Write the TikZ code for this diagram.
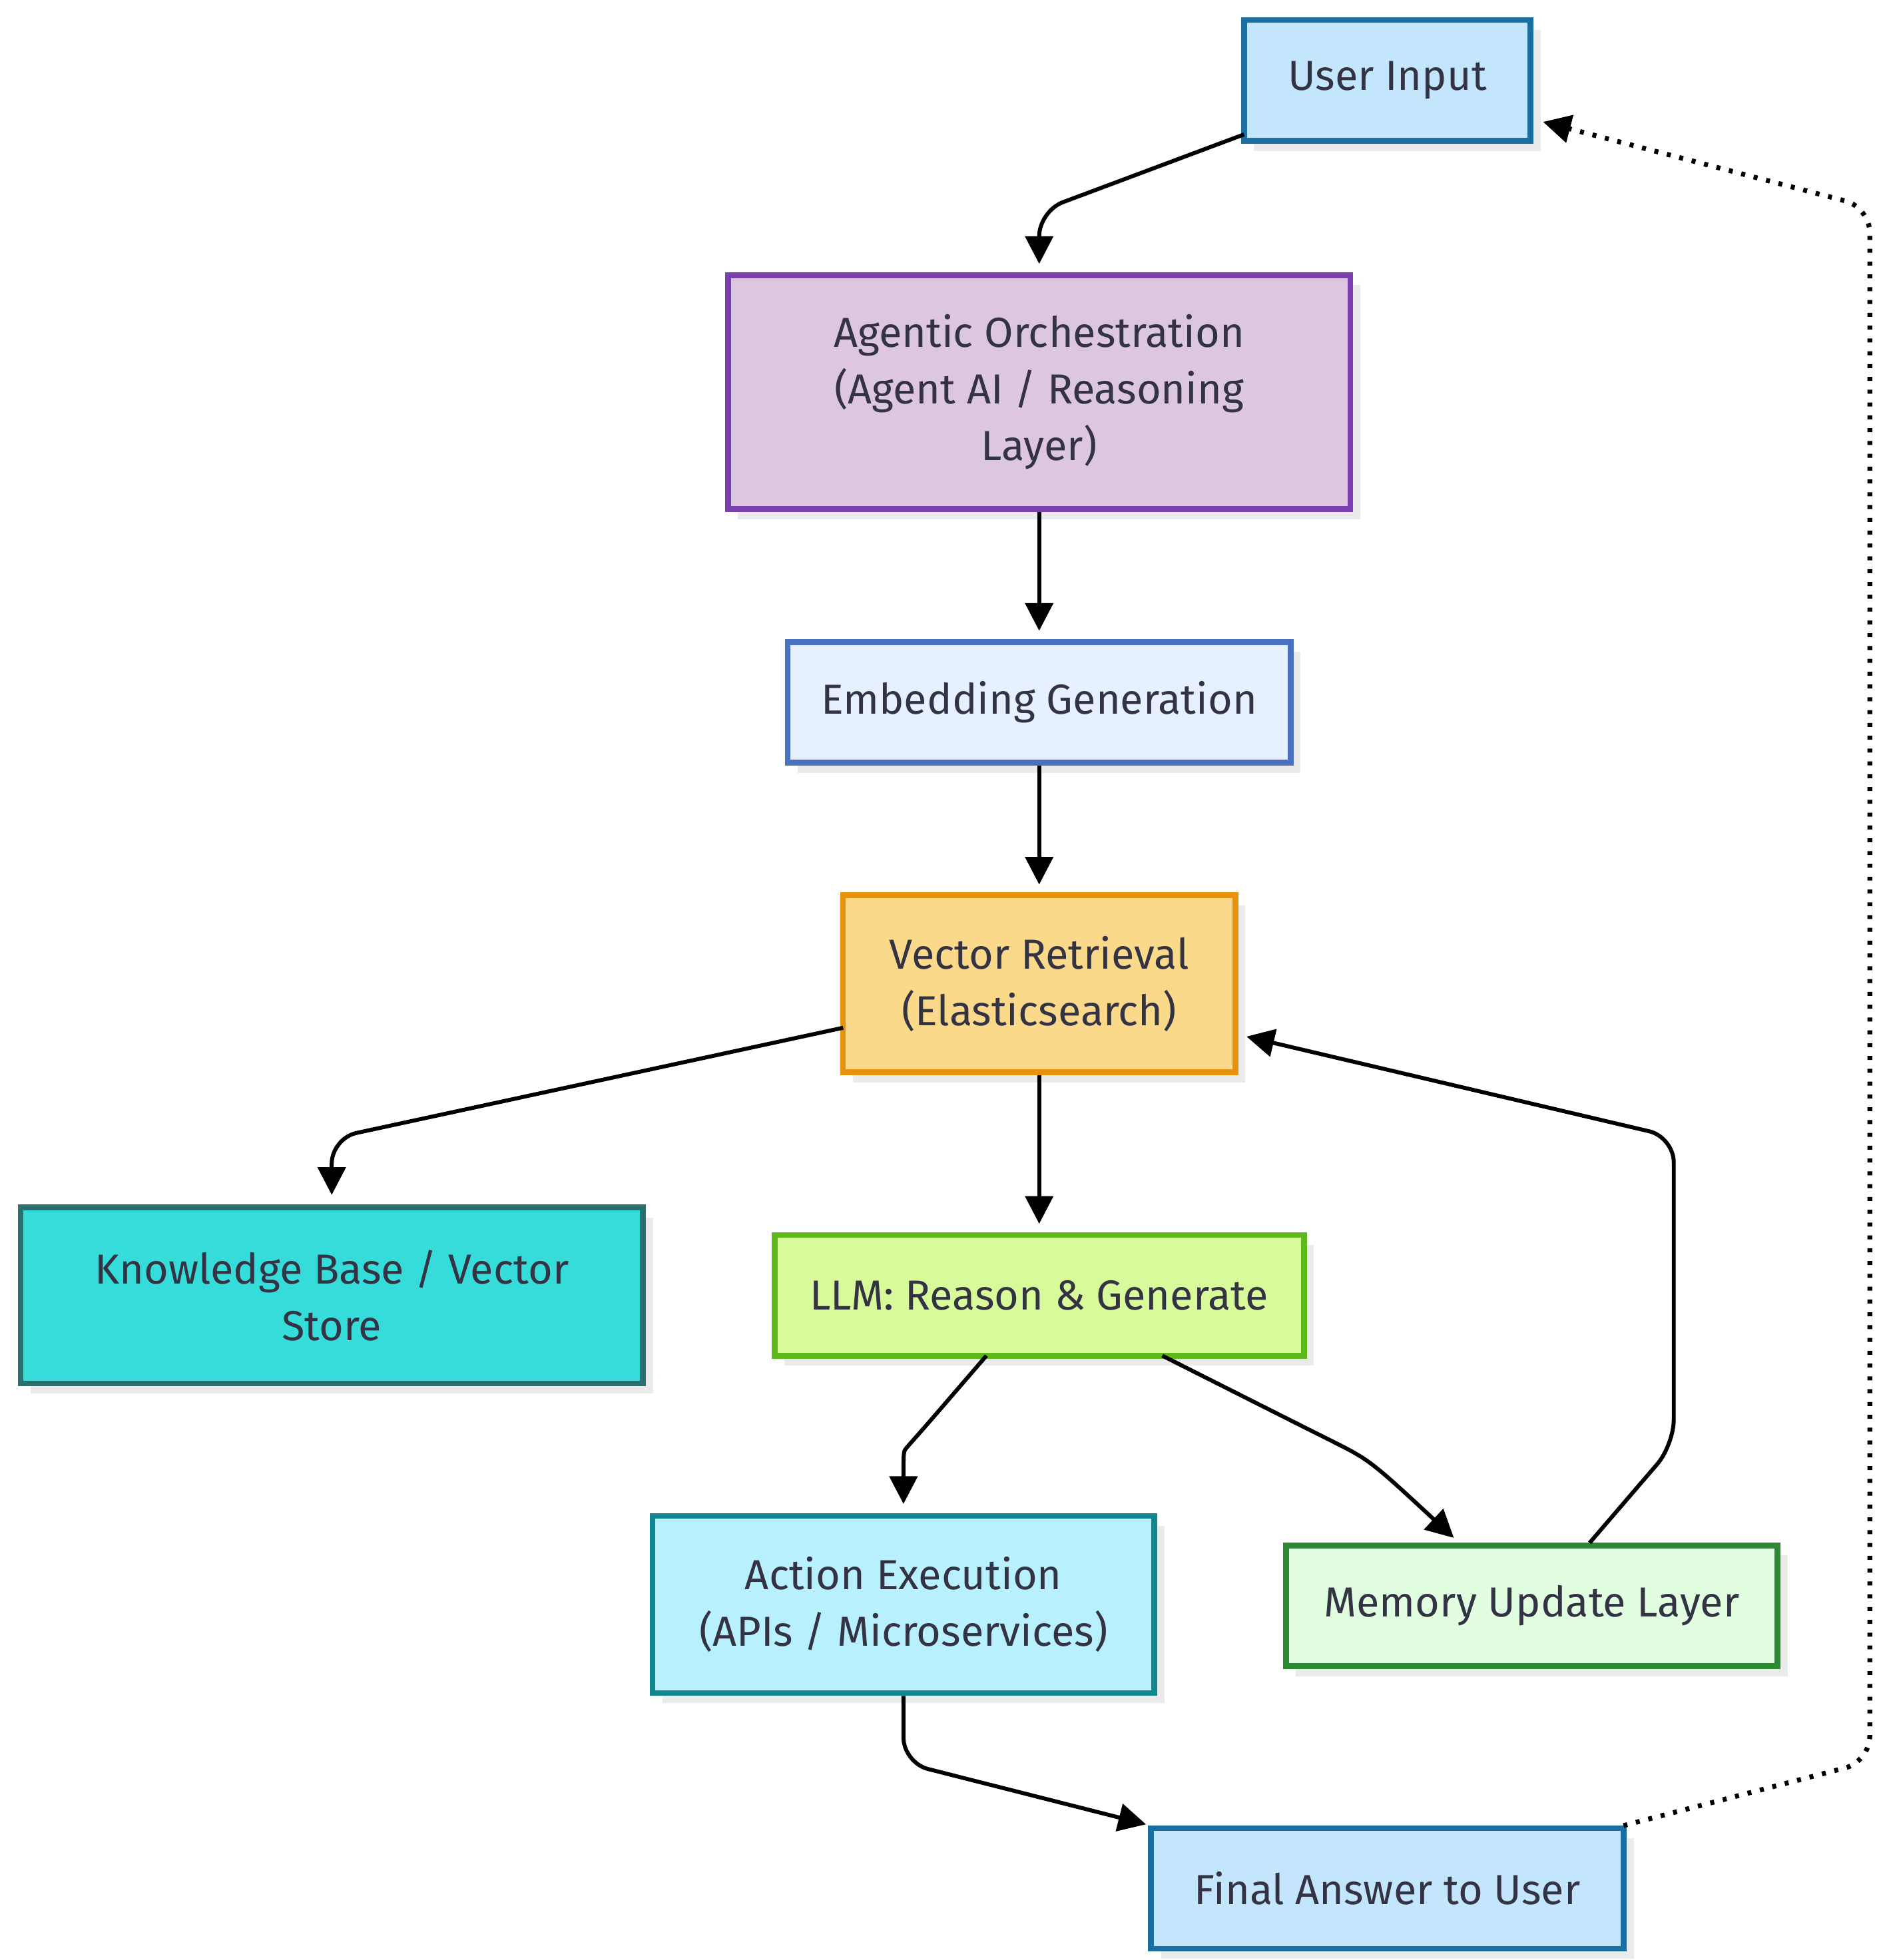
\documentclass[tikz,border=0pt]{standalone}
\usepackage{fontspec}
\setmainfont{Fira Sans}
\usepackage{xcolor}
\usetikzlibrary{arrows.meta}
\usetikzlibrary{shadows}
\definecolor{txt}{HTML}{333344}
\definecolor{uifill}{HTML}{C4E6FD}\definecolor{uidraw}{HTML}{1A6EA0}
\definecolor{agfill}{HTML}{DCC6E0}\definecolor{agdraw}{HTML}{7C3FB2}
\definecolor{emfill}{HTML}{E6F0FE}\definecolor{emdraw}{HTML}{4A70C0}
\definecolor{vrfill}{HTML}{FAD98A}\definecolor{vrdraw}{HTML}{E8920F}
\definecolor{kbfill}{HTML}{36DCD9}\definecolor{kbdraw}{HTML}{2A7070}
\definecolor{llfill}{HTML}{D9FA9A}\definecolor{lldraw}{HTML}{5DB81A}
\definecolor{acfill}{HTML}{B8F0FE}\definecolor{acdraw}{HTML}{12868F}
\definecolor{mefill}{HTML}{E1FDE0}\definecolor{medraw}{HTML}{2E8A32}
\tikzset{
  every node/.style = {font = \fontsize{9.5}{12.8}\selectfont, text=txt},
  box/.style = {draw, line width=1.3pt, align=center, minimum height=0.96cm,
    drop shadow={shadow xshift=0.08cm, shadow yshift=-0.08cm, fill=black!8, opacity=1}},
  flow/.style = {line width=0.9pt, rounded corners=0.2cm, -{Triangle[length=0.22cm,width=0.22cm]}},
  back/.style = {flow, dotted, line width=1.1pt}
}

\begin{document}
\begin{tikzpicture}[x=0.01cm,y=-0.01cm]
\useasboundingbox (0,0) rectangle (1500,1560);

% Nodes
\node[box, fill=uifill, draw=uidraw, minimum width=2.28cm] (input) at (1104,64) {User Input};
\node[box, fill=agfill, draw=agdraw, minimum width=4.95cm, minimum height=1.86cm] (agent) at (827,312)
  {Agentic Orchestration\\(Agent AI / Reasoning\\Layer)};
\node[box, fill=emfill, draw=emdraw, minimum width=4.0cm] (embed) at (827,559) {Embedding Generation};
\node[box, fill=vrfill, draw=vrdraw, minimum width=3.12cm, minimum height=1.41cm] (vector) at (827,783)
  {Vector Retrieval\\(Elasticsearch)};
\node[box, fill=kbfill, draw=kbdraw, minimum width=4.95cm, minimum height=1.40cm] (kb) at (264,1031)
  {Knowledge Base / Vector\\Store};
\node[box, fill=llfill, draw=lldraw, minimum width=4.21cm] (llm) at (827,1031) {LLM: Reason \& Generate};
\node[box, fill=acfill, draw=acdraw, minimum width=3.99cm, minimum height=1.41cm] (action) at (719,1277)
  {Action Execution\\(APIs / Microservices)};
\node[box, fill=mefill, draw=medraw, minimum width=3.91cm] (memory) at (1219,1278) {Memory Update Layer};
\node[box, fill=uifill, draw=uidraw, minimum width=3.76cm] (final) at (1104,1503) {Final Answer to User};

% Connectors
\coordinate (a1) at (990,107);
\draw[flow] (a1) -- (827,168) -- (827,210);
\draw[flow] (agent.south) -- (827,502);
\draw[flow] (embed.south) -- (827,704);
\coordinate (v1) at (671,818);
\draw[flow] (v1) -- (264,906) -- (264,951);
\draw[flow] (vector.south) -- (827,974);
\coordinate (l1) at (785,1079);
\coordinate (l2) at (925,1079);
\draw[flow] (l1) -- (735,1137) .. controls (719,1155) .. (719,1197);
\draw[flow] (l2) -- (1040,1137) .. controls (1090,1162) .. (1157,1224);
\coordinate (m1) at (1265,1228);
\coordinate (v2) at (992,825);
\draw[flow] (m1) -- (1332,1150) -- (1332,905) -- (v2);
\draw[flow] (action.south) -- (719,1403) -- (912,1452);
\coordinate (f1) at (1292,1453);
\coordinate (u1) at (1228,97);
\draw[back] (f1) -- (1488,1402) -- (1488,165) -- (u1);
\end{tikzpicture}
\end{document}
